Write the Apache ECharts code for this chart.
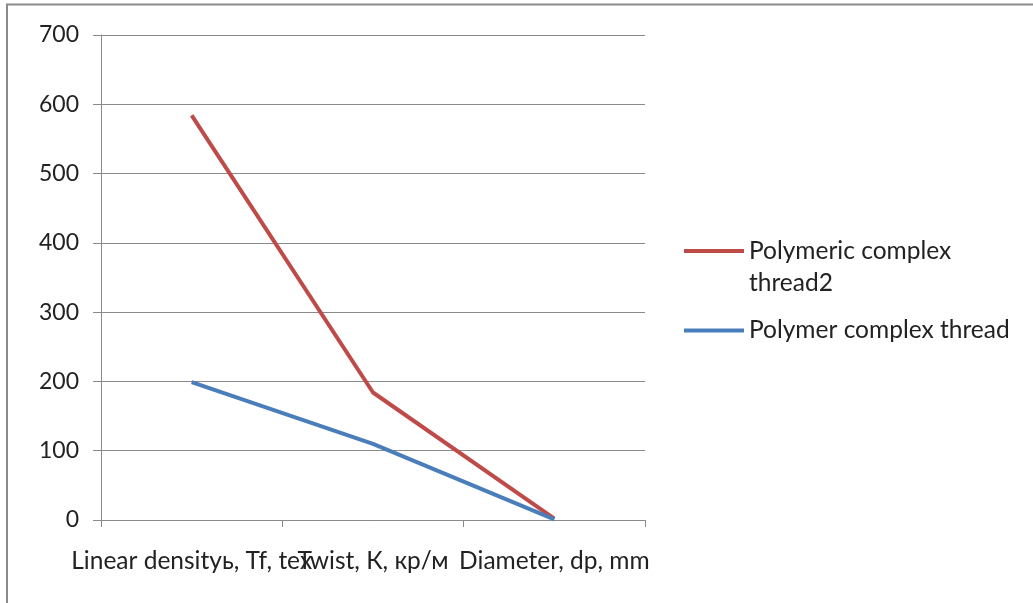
<!DOCTYPE html>
<html>
<head>
<meta charset="utf-8">
<script src="https://cdn.jsdelivr.net/npm/echarts@6/dist/echarts.min.js"></script>
<style>html,body{margin:0;padding:0;background:#fff;}#c{width:1033px;height:603px;}</style>
</head>
<body>
<div id="c"></div>
<script>
var categories = ['Linear densityь, Tf, tex', 'Twist, К, кр/м', 'Diameter, dp, mm'];
var thread2Values = [584, 184, 2];
var threadValues = [199, 110, 1];
var yTicks = {min: 0, max: 700, interval: 100};
var seriesNames = ['Polymeric complex thread2', 'Polymer complex thread'];

var FONT = 'Lato';
var chart = echarts.init(document.getElementById('c'));
chart.setOption({
  animation: false,
  backgroundColor: '#fff',
  textStyle: {fontFamily: FONT},
  graphic: [{
    type: 'rect', silent: true,
    shape: {x: 7, y: 4.5, width: 1100, height: 700},
    style: {fill: 'none', stroke: '#8a8a8a', lineWidth: 2}
  }],
  grid: {left: 101, right: 388, top: 35, bottom: 83, containLabel: false},
  legend: [{
    orient: 'vertical', left: 684, top: 235, padding: 0,
    itemWidth: 60, itemHeight: 36, symbolKeepAspect: false,
    icon: 'path://M0,0H60V4H0Z M60,36',
    itemStyle: {borderWidth: 0},
    data: [seriesNames[0]],
    formatter: function () { return 'Polymeric complex\nthread2'; },
    textStyle: {fontFamily: FONT, fontSize: 24.5, color: '#222', lineHeight: 32}
  }, {
    orient: 'vertical', left: 684, top: 318, padding: 0,
    itemWidth: 60, itemHeight: 4, icon: 'rect',
    itemStyle: {borderWidth: 0},
    data: [seriesNames[1]],
    textStyle: {fontFamily: FONT, fontSize: 24.5, color: '#222'}
  }],
  xAxis: {
    type: 'category', data: categories, boundaryGap: true,
    axisLine: {show: true, lineStyle: {color: '#8a8a8a', width: 1}},
    axisTick: {show: true, length: 7, lineStyle: {color: '#8a8a8a'}},
    axisLabel: {interval: 0, fontFamily: FONT, fontSize: 24.5, color: '#222', margin: 29},
    splitLine: {show: false}
  },
  yAxis: {
    type: 'value', min: yTicks.min, max: yTicks.max, interval: yTicks.interval,
    axisLine: {show: true, lineStyle: {color: '#8a8a8a', width: 1}},
    axisTick: {show: true, length: 8, lineStyle: {color: '#8a8a8a'}},
    axisLabel: {fontFamily: FONT, fontSize: 23, color: '#222', margin: 22},
    splitLine: {show: true, lineStyle: {color: '#8a8a8a', width: 1}}
  },
  series: [{
    name: seriesNames[0], type: 'line', data: thread2Values,
    symbol: 'none', color: '#BE4B48',
    lineStyle: {width: 4, color: '#BE4B48'}
  }, {
    name: seriesNames[1], type: 'line', data: threadValues,
    symbol: 'none', color: '#4A7EBB',
    lineStyle: {width: 4, color: '#4A7EBB'}
  }]
});
</script>
</body>
</html>
